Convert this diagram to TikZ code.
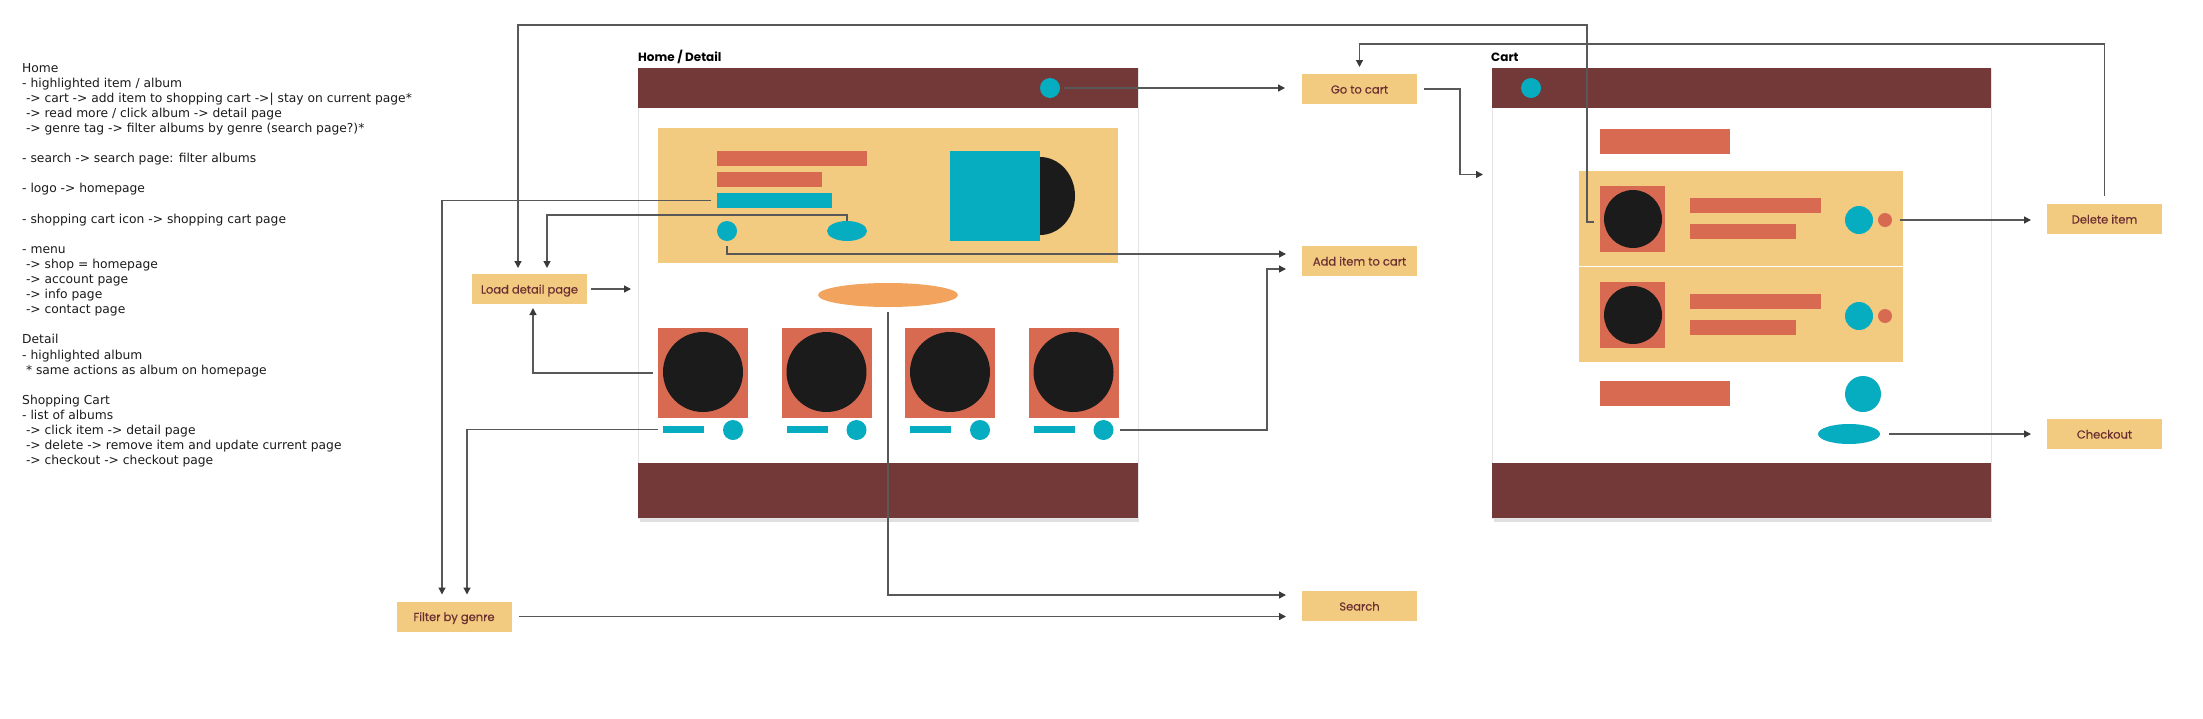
\documentclass[tikz,border=0pt]{standalone}
\usepackage{fontspec}
\setmainfont{Poppins}
\newfontfamily\notefont{DejaVu Sans}
\newfontfamily\btnfont[FakeBold=0.35]{Poppins}
\usetikzlibrary{arrows.meta,shapes.geometric}
\definecolor{maroon}{HTML}{733838}
\definecolor{sand}{HTML}{F2CA80}
\definecolor{brick}{HTML}{D96A52}
\definecolor{tealc}{HTML}{06ACBF}
\definecolor{ink}{HTML}{1B1B1B}
\definecolor{peach}{HTML}{F2A35E}
\definecolor{btntext}{HTML}{6B2F32}
\definecolor{linec}{HTML}{585858}
\definecolor{tipc}{HTML}{3A3A3A}
\definecolor{framec}{HTML}{E4E4E4}
\definecolor{notec}{HTML}{1A1A1A}
\begin{document}
\begin{tikzpicture}[x=1pt,y=-1pt,
  sh/.style={inner sep=0pt,outer sep=0pt,draw=none},
  rct/.style n args={2}{sh,rectangle,minimum width=#1pt,minimum height=#2pt},
  ell/.style n args={2}{sh,ellipse,minimum width=#1pt,minimum height=#2pt},
  circ/.style={sh,circle,minimum size=#1pt},
  btn/.style={rectangle,fill=sand,minimum width=115pt,minimum height=30pt,inner sep=0pt,outer sep=0pt,
    text=btntext,font=\btnfont\fontsize{11.5}{13}\selectfont,text height=11pt,text depth=2pt},
  title/.style={anchor=base west,inner sep=0pt,text=black,font=\bfseries\fontsize{12}{14}\selectfont},
  conn/.style={draw=linec,line width=1.3pt,-{Triangle[length=7pt,width=7pt,color=tipc]}}
]
\useasboundingbox (0,0) rectangle (2203,718);

% ---------- notes ----------
\node[anchor=north west,inner sep=0pt,align=left,text=notec,font=\notefont\fontsize{12.3}{15.1}\selectfont] (notes) at (22,63) {%
Home\\
- highlighted item / album\\
\hspace*{3.8pt}-> cart -> add item to shopping cart ->| stay on current page*\\
\hspace*{3.8pt}-> read more / click album -> detail page\\
\hspace*{3.8pt}-> genre tag -> filter albums by genre (search page?)*\\[15.1pt]
- search -> search page: filter albums\\[15.1pt]
- logo -> homepage\\[15.1pt]
- shopping cart icon -> shopping cart page\\[15.1pt]
- menu\\
\hspace*{3.8pt}-> shop = homepage\\
\hspace*{3.8pt}-> account page\\
\hspace*{3.8pt}-> info page\\
\hspace*{3.8pt}-> contact page\\[15.1pt]
Detail\\
- highlighted album\\
\hspace*{3.8pt}* same actions as album on homepage\\[15.1pt]
Shopping Cart\\
- list of albums\\
\hspace*{3.8pt}-> click item -> detail page\\
\hspace*{3.8pt}-> delete -> remove item and update current page\\
\hspace*{3.8pt}-> checkout -> checkout page};

% ---------- Home / Detail page ----------
\node[title] (hlabel) at (638,61) {Home / Detail};
\fill[black!12] (640,517) rectangle (1139,522);
\node[rct={500}{450},fill=white,draw=framec,line width=1pt] (homeframe) at (888,293) {};
\node[rct={500}{40},fill=maroon] (hhead) at (888,88) {};
\node[rct={500}{55},fill=maroon] (hfoot) at (888,490.5) {};
\node[circ=20,fill=tealc] (hcart) at (1050,88) {};

\node[rct={460}{135},fill=sand] (hero) at (888,195.5) {};
\node[rct={150}{15},fill=brick] (hb1) at (792,158.5) {};
\node[rct={105}{15},fill=brick] (hb2) at (769.5,179.5) {};
\node[rct={115}{15},fill=tealc] (hteal) at (774.5,200.5) {};
\node[ell={20}{20},fill=tealc] (hsmall) at (727,231) {};
\node[ell={40}{20},fill=tealc] (hwide) at (847,231) {};
\node[ell={70}{78},fill=ink] (hdisc) at (1040,196) {};
\node[rct={90}{90},fill=tealc] (hsq) at (995,196) {};

\node[ell={140}{24},fill=peach] (sell) at (888,295) {};

\foreach \i/\x in {1/658,2/781.5,3/905,4/1028.5} {
  \node[rct={90}{90},fill=brick] (as\i) at (\x+45,373) {};
  \node[circ=80,fill=ink] (ad\i) at (\x+45,372) {};
  \node[rct={41}{7},fill=tealc] (ab\i) at (\x+25.5,429.5) {};
  \node[circ=20,fill=tealc] (ac\i) at (\x+75,430) {};
}

% ---------- Cart page ----------
\node[title] (clabel) at (1491,61) {Cart};
\fill[black!12] (1494,517) rectangle (1992,522);
\node[rct={499}{450},fill=white,draw=framec,line width=1pt] (cartframe) at (1741.5,293) {};
\node[rct={499}{40},fill=maroon] (chead) at (1741.5,88) {};
\node[rct={499}{55},fill=maroon] (cfoot) at (1741.5,490.5) {};
\node[circ=20,fill=tealc] (ccart) at (1531,88) {};

\node[rct={130}{25},fill=brick] (ctop) at (1665,141.5) {};
\foreach \i/\y in {1/0,2/96} {
  \node[rct={324}{95},fill=sand] (ci\i) at (1741,218.5+\y) {};
  \node[rct={65}{66},fill=brick] (ca\i) at (1632.5,219+\y) {};
  \node[circ=58,fill=ink] (cdisc\i) at (1633,219+\y) {};
  \node[rct={131}{15},fill=brick] (cb\i) at (1755.5,205.5+\y) {};
  \node[rct={106}{15},fill=brick] (cc\i) at (1743,231.5+\y) {};
  \node[circ=28,fill=tealc] (ct\i) at (1859,220+\y) {};
  \node[circ=14,fill=brick] (cd\i) at (1885,220+\y) {};
}
\node[rct={130}{25},fill=brick] (cbot) at (1665,393.5) {};
\node[circ=36,fill=tealc] (ctot) at (1863,394) {};
\node[ell={62}{20},fill=tealc] (cell) at (1849,434) {};

% ---------- action boxes ----------
\node[btn] (gtc) at (1359.5,89) {Go to cart};
\node[btn] (aic) at (1359.5,261) {Add item to cart};
\node[btn] (srch) at (1359.5,606) {Search};
\node[btn] (ldp) at (529.5,289) {Load detail page};
\node[btn] (fbg) at (454,616.5) {Filter by genre};
\node[btn] (del) at (2104.5,219) {Delete item};
\node[btn] (chk) at (2104.5,434) {Checkout};

% ---------- connectors ----------
\draw[conn,shorten <=4pt,shorten >=17pt] (hcart.east) -- (hcart.east -| gtc.west);
\draw[conn,shorten <=5pt,shorten >=16pt] (hsmall.south) |- ([yshift=7pt]aic.west);
\draw[conn,shorten >=6pt] (hwide.north) -- ++(0,-6) -| ([xshift=17.5pt]ldp.north);
\draw[conn,shorten <=6pt,shorten >=7pt] (hteal.west) -| ([xshift=-12pt]fbg.north);
\draw[conn,shorten <=5pt,shorten >=7pt] (ab1.west) -| ([xshift=13pt]fbg.north);
\draw[conn,shorten <=5pt,shorten >=4pt] (as1.west) -| ([xshift=3.5pt]ldp.south);
\draw[conn,shorten <=4pt,shorten >=7pt] (ldp.east) -- (ldp.east -| homeframe.west);
\draw[conn,shorten <=6.5pt,shorten >=16pt] (ac4.east) -| ([xshift=-35pt,yshift=-8pt]aic.west) -- ([yshift=-8pt]aic.west);
\draw[conn,shorten <=5pt,shorten >=16pt] (sell.south) |- ([yshift=11pt]srch.west);
\draw[conn,shorten <=7pt,shorten >=16pt] (fbg.east) -- (fbg.east -| srch.west);
\draw[conn,shorten <=6pt,shorten >=6pt] ([yshift=-3pt]ca1.west) -- ++(-13,0) -- ++(0,-197) -| ([xshift=-11.5pt]ldp.north);
\draw[conn,shorten <=7pt,shorten >=9pt] (gtc.east) -- ++(43,0) |- ([yshift=118.5pt]cartframe.west);
\draw[conn,shorten <=8pt,shorten >=7pt] (del.north) -- ++(0,-160) -| (gtc.north);
\draw[conn,shorten <=8pt,shorten >=16pt] (cd1.east) -- (cd1.east -| del.west);
\draw[conn,shorten <=9pt,shorten >=16pt] (cell.east) -- (cell.east -| chk.west);
\end{tikzpicture}
\end{document}
